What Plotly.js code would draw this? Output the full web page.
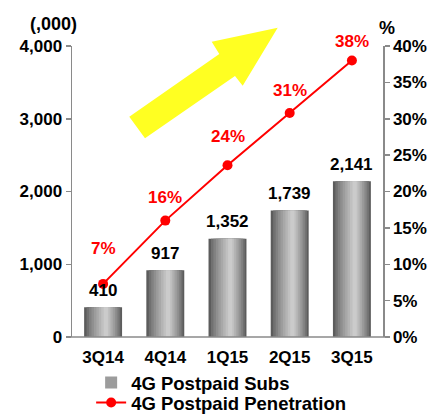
<!DOCTYPE html>
<html>
<head>
<meta charset="utf-8">
<script src="https://cdn.plot.ly/plotly-3.0.1.min.js"></script>
<style>html,body{margin:0;padding:0;background:#fff;}#chart{width:434px;height:415px;}</style>
</head>
<body>
<div id="chart"></div>
<script>
const categories = ['3Q14', '4Q14', '1Q15', '2Q15', '3Q15'];
const subs = [410, 917, 1352, 1739, 2141];
const subsLabels = ['410', '917', '1,352', '1,739', '2,141'];
const penetration = [7.3, 16.0, 23.6, 30.8, 38.0];
const penLabels = ['7%', '16%', '24%', '31%', '38%'];
const penLabelShift = [35, 23, 29, 22, 19];

const FONT = 'Liberation Sans, Arial, sans-serif';
const F = (size, color) => ({family: FONT, size: size, color: color || '#000', weight: 'bold'});
const halfW = 0.305;
const peak = -halfW + 0.58 * 2 * halfW;
const nLayers = 9;
const dark = [92, 92, 92], light = [214, 214, 214];
const traces = [];
for (let k = 0; k < nLayers; k++) {
  const t = k / nLayers;
  const left = -halfW + t * (peak + halfW);
  const right = halfW - t * (halfW - peak);
  const e = Math.pow(t, 0.8);
  const c = dark.map((d, i) => Math.round(d + (light[i] - d) * e));
  traces.push({
    type: 'bar', x: categories, y: subs,
    offset: left, width: right - left,
    marker: {color: 'rgb(' + c.join(',') + ')', line: {width: 0}},
    name: '4G Postpaid Subs',
    showlegend: k === 4,
    legend: 'legend',
    hoverinfo: 'skip'
  });
}
traces.push({
  type: 'scatter', mode: 'lines+markers', x: categories, y: penetration, yaxis: 'y2',
  line: {color: '#ff0000', width: 2},
  marker: {color: '#ff0000', size: 10},
  name: '4G Postpaid Penetration', cliponaxis: false, hoverinfo: 'skip',
  legend: 'legend2'
});

const annotations = [];
categories.forEach((c, i) => {
  annotations.push({x: c, y: subs[i], xref: 'x', yref: 'y', text: subsLabels[i], showarrow: false,
    yanchor: 'middle', yshift: 17, font: F(17)});
  annotations.push({x: c, y: penetration[i], xref: 'x', yref: 'y2', text: penLabels[i], showarrow: false,
    yanchor: 'middle', yshift: penLabelShift[i], font: F(17, '#ff0000')});
});
annotations.push({xref: 'paper', yref: 'paper', x: -0.058, y: 1.077, text: '(,000)', showarrow: false,
  xanchor: 'center', yanchor: 'middle', font: F(18)});
annotations.push({xref: 'paper', yref: 'paper', x: 1.012, y: 1.062, text: '%', showarrow: false,
  xanchor: 'center', yanchor: 'middle', font: F(18)});

const legendBase = {xref: 'container', yref: 'container', x: 0.21, xanchor: 'left', yanchor: 'middle',
  orientation: 'v', bgcolor: 'rgba(0,0,0,0)', font: F(18.5), itemwidth: 30};

const layout = {
  width: 434, height: 415,
  margin: {l: 72, r: 51, t: 46, b: 78, autoexpand: false},
  paper_bgcolor: '#fff', plot_bgcolor: '#fff',
  barmode: 'overlay',
  font: F(17),
  xaxis: {type: 'category', showline: false, showgrid: false, zeroline: false, ticks: '',
    ticklabelstandoff: 8, tickfont: F(17)},
  yaxis: {range: [0, 4000], dtick: 1000, tickformat: ',d', showgrid: false, zeroline: false,
    showline: true, linecolor: '#8a8a8a', linewidth: 1.5, ticks: 'outside', ticklen: 5, tickcolor: '#8a8a8a',
    tickwidth: 1.5, tickfont: F(17)},
  yaxis2: {overlaying: 'y', side: 'right', range: [0, 40], dtick: 5, ticksuffix: '%', showgrid: false,
    zeroline: false, showline: true, linecolor: '#8a8a8a', linewidth: 1.5, ticks: 'outside', ticklen: 5,
    tickcolor: '#8a8a8a', tickwidth: 1.5, tickfont: F(17)},
  showlegend: true,
  legend: Object.assign({}, legendBase, {y: (415 - 383) / 415}),
  legend2: Object.assign({}, legendBase, {y: (415 - 403) / 415}),
  shapes: [
    {type: 'line', xref: 'paper', yref: 'paper', x0: -0.016, x1: 1.016, y0: 0, y1: 0,
      line: {color: '#8a8a8a', width: 1.5}},
    {type: 'path', xref: 'paper', yref: 'paper', layer: 'above',
      path: 'M0.6614,1.0629 L0.4492,1.0148 L0.4736,0.9725 L0.1842,0.7570 L0.2347,0.6828 L0.5241,0.8969 L0.5489,0.8636 Z',
      fillcolor: '#ffff22', line: {width: 0}}
  ],
  annotations: annotations
};

Plotly.newPlot('chart', traces, layout, {displayModeBar: false, staticPlot: true});
</script>
</body>
</html>
